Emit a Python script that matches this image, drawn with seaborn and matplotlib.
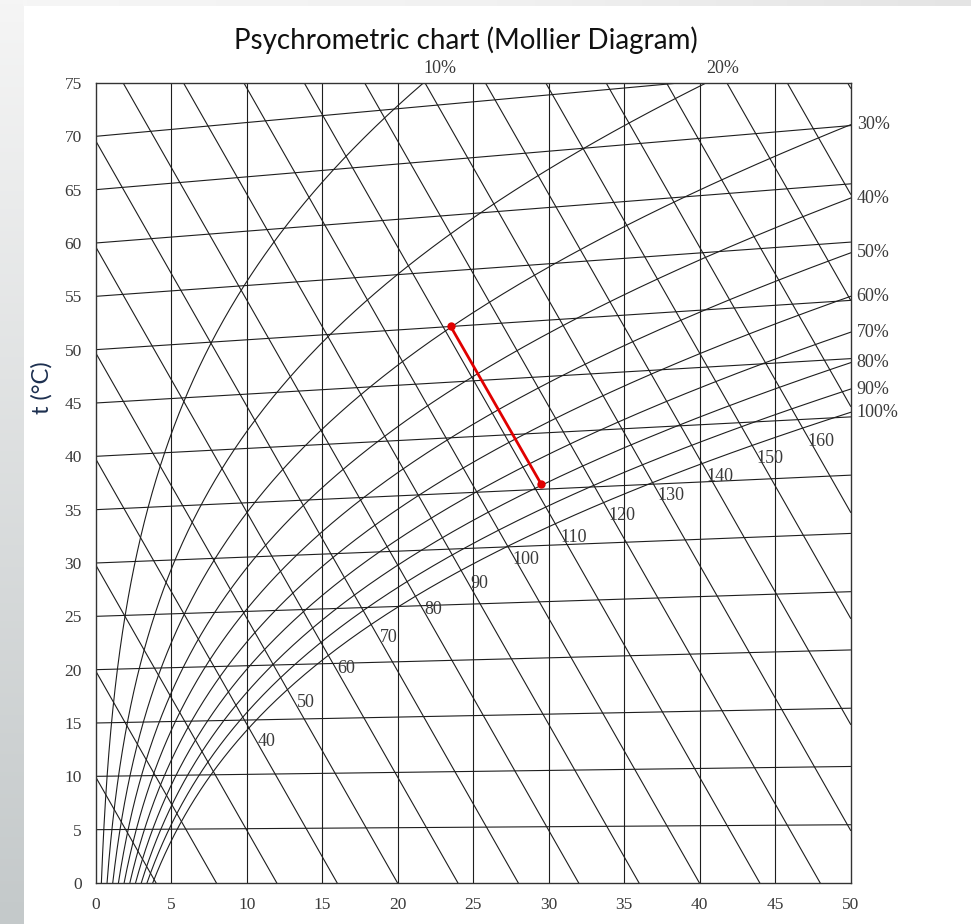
"""
Psychrometric chart (Mollier diagram) redrawn with seaborn
"""

import numpy as np
import pandas as pd
import matplotlib
matplotlib.use("Agg")
import matplotlib.pyplot as plt
import seaborn as sns

# ---- chart levels ----
moisture_lines = [5, 10, 15, 20, 25, 30, 35, 40, 45]          # x (g/kg) verticals
isotherms = [5, 10, 15, 20, 25, 30, 35, 40, 45, 50, 55, 60, 65, 70, 75]   # t (°C)
enthalpies = [10, 20, 30, 40, 50, 60, 70, 80, 90, 100, 110, 120, 130,
              140, 150, 160, 170, 180, 190, 200]                # h (kJ/kg)
rh_levels = [10, 20, 30, 40, 50, 60, 70, 80, 90, 100]          # relative humidity (%)
h_labels = [40, 50, 60, 70, 80, 90, 100, 110, 120, 130, 140, 150, 160]
x_ticks = [0, 5, 10, 15, 20, 25, 30, 35, 40, 45, 50]
t_ticks = [0, 5, 10, 15, 20, 25, 30, 35, 40, 45, 50, 55, 60, 65, 70, 75]

# process line (adiabatic cooling) drawn in red
proceso_x = [23.5, 29.5]
proceso_y = [52.2, 37.4]

P_ATM = 101.325
LINEA = "#1e1e1e"
TEXTO = "#3a3a3a"


def p_sat(t):
    """Presion de saturacion en kPa (Buck)"""
    return 0.61121 * np.exp((18.678 - t / 234.5) * (t / (257.14 + t)))


def humedad(t, phi):
    """Humedad absoluta en g/kg"""
    pv = phi * p_sat(t)
    return 622.0 * pv / (P_ATM - pv)


def eje_y(t, x):
    """Coordenada vertical del diagrama (isoterma inclinada)"""
    return t + 1.86e-3 * t * x / 1.006


def eje_y_h(h, x):
    return (h - 2.501 * x) / 1.006


# ---- build the line table ----
filas = []
for t in isotherms:
    for x in (0, 50):
        filas.append(("t%d" % t, x, eje_y(t, x)))
for h in enthalpies:
    for x in (0, 50):
        filas.append(("h%d" % h, x, eje_y_h(h, x)))
t_curva = np.linspace(0, 90, 600)
for rh in rh_levels:
    xs = humedad(t_curva, rh / 100)
    ys = eje_y(t_curva, xs)
    for x, y in zip(xs, ys):
        filas.append(("rh%d" % rh, x, y))
df = pd.DataFrame(filas, columns=["linea", "x", "y"])

sns.set_style("white")
plt.rcParams["font.family"] = ["Liberation Serif", "DejaVu Serif"]

fig = plt.figure(figsize=(9.71, 9.24), dpi=100)
ax = fig.add_axes([95.7 / 971, 1 - 883 / 924, 755 / 971, 800 / 924])

for x in moisture_lines:
    ax.axvline(x, color=LINEA, lw=0.8, zorder=1)

sns.lineplot(data=df, x="x", y="y", units="linea", estimator=None, sort=False,
             color=LINEA, lw=0.8, ax=ax, legend=False, zorder=2)

# proceso
sns.lineplot(x=proceso_x, y=proceso_y, color="#e00000", lw=2, marker="o",
             markersize=6, markeredgewidth=0, ax=ax, zorder=5)

ax.set_xlim(0, 50)
ax.set_ylim(0, 75)
ax.set_xticks(x_ticks)
ax.set_yticks(t_ticks)
ax.set_xlabel("")
ax.set_ylabel("")
ax.tick_params(axis="both", direction="out", length=6, width=1, color="#333333",
               labelsize=12.5, labelcolor=TEXTO, pad=4)
for s in ax.spines.values():
    s.set_color("#333333")
    s.set_linewidth(1)

# ---- etiquetas de humedad relativa ----
for rh in rh_levels:
    xs = humedad(t_curva, rh / 100)
    ys = eje_y(t_curva, xs)
    if xs[ys <= 75].max() < 50:
        # sale por arriba
        x_top = np.interp(75, ys, xs)
        ax.text(x_top + 1.1, 75.6, "%d%%" % rh, ha="center", va="bottom",
                fontsize=13, color=TEXTO)
    else:
        y_der = np.interp(50, xs, ys)
        ax.text(50.4, y_der, "%d%%" % rh, ha="left", va="center",
                fontsize=13, color=TEXTO)

# ---- etiquetas de entalpia sobre la curva de saturacion ----
xs_sat = humedad(t_curva, 1.0)
h_sat = 1.006 * t_curva + xs_sat * (2.501 + 1.86e-3 * t_curva)
for h in h_labels:
    t_h = np.interp(h, h_sat, t_curva)
    x_h = humedad(t_h, 1.0)
    ax.text(x_h + 1.2, eje_y(t_h, x_h) - 1.25, str(h), ha="center", va="center",
            fontsize=13, color=TEXTO)

# ---- titulo, eje y y fondo de la diapositiva ----
fig.text(0.48, 0.956, "Psychrometric chart (Mollier Diagram)", ha="center",
         va="center", fontsize=20, color="#111111", family=["Lato", "DejaVu Sans"])
fig.text(42 / 971, 1 - 388 / 924, "t (°C)", rotation=90, ha="center", va="center",
         fontsize=17, color="#1c2f4f", family=["Lato", "DejaVu Sans"])

franja = fig.add_axes([0, 0, 23 / 971, 1], zorder=-1)
grad = np.linspace(0, 1, 256).reshape(-1, 1)
franja.imshow(grad, aspect="auto", cmap=matplotlib.colors.LinearSegmentedColormap.from_list(
    "g", ["#f5f5f5", "#c4c9ca"]), extent=(0, 1, 0, 1))
franja.set_axis_off()
arriba = fig.add_axes([23 / 971, 1 - 6 / 924, 1 - 23 / 971, 6 / 924], zorder=-1)
arriba.imshow(np.linspace(0, 1, 256).reshape(1, -1), aspect="auto",
              cmap=matplotlib.colors.LinearSegmentedColormap.from_list(
                  "g2", ["#f6f6f6", "#f1f1f1", "#e4e4e4"]), extent=(0, 1, 0, 1))
arriba.set_axis_off()

fig.savefig("out.png", dpi=100)
plt.close(fig)
